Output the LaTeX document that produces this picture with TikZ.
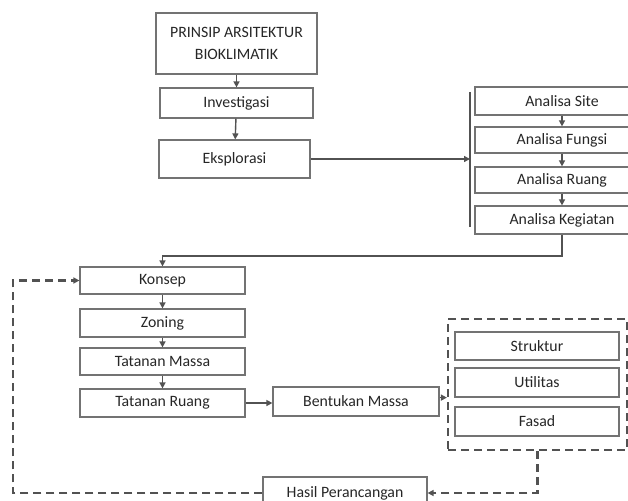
\documentclass[tikz,border=0pt]{standalone}
\usepackage{fontspec}
\setmainfont{Carlito}
\usetikzlibrary{arrows.meta}

\begin{document}
\begin{tikzpicture}[x=1pt,y=-1pt,>={Triangle[length=6pt,width=6pt]},
  kotak/.style={draw=black!55,line width=1.2pt,inner sep=0pt,minimum height=28pt,
    text=black!85,font=\fontsize{15.8}{22}\selectfont},
  panah/.style={->,draw=black!68,line width=1.4pt},
  putus/.style={->,draw=black!68,line width=2.2pt,dash pattern=on 8pt off 5pt}]
  \clip (0,0) rectangle (628,500);
  \node[kotak,minimum width=161pt,minimum height=61pt,align=center] (prinsip) at (236.5,43.5) {PRINSIP ARSITEKTUR\\BIOKLIMATIK};
  \node[kotak,minimum width=153pt,minimum height=30pt] (investigasi) at (236.5,103) {Investigasi};
  \node[kotak,minimum width=151pt,minimum height=38pt] (eksplorasi) at (234.5,159) {Eksplorasi};
  \draw[panah] (prinsip) -- (investigasi);
  \draw[panah] (investigasi) -- (eksplorasi);

  \coordinate (bartop) at (470,92);
  \coordinate (barbot) at (470,227);
  \draw[draw=black!68,line width=1.4pt] (bartop) -- (barbot);
  \draw[panah] (eksplorasi.east) -- (eksplorasi.east -| bartop);

  \node[kotak,minimum width=174pt] (site) at (562,101) {Analisa Site};
  \node[kotak,minimum width=174pt,minimum height=26pt] (fungsi) at (562,140) {Analisa Fungsi};
  \node[kotak,minimum width=174pt,minimum height=26pt] (ruang) at (562,180) {Analisa Ruang};
  \node[kotak,minimum width=174pt] (kegiatan) at (562,220) {Analisa Kegiatan};
  \draw[panah] (site) -- (fungsi);
  \draw[panah] (fungsi) -- (ruang);
  \draw[panah] (ruang) -- (kegiatan);

  \node[kotak,minimum width=165pt,minimum height=27pt] (konsep) at (162.5,280.5) {Konsep};
  \node[kotak,minimum width=165pt] (zoning) at (162.5,323) {Zoning};
  \node[kotak,minimum width=165pt,minimum height=27pt] (massa) at (162.5,361.5) {Tatanan Massa};
  \node[kotak,minimum width=165pt] (truang) at (162.5,403) {Tatanan Ruang};
  \coordinate (siku) at (562,256);
  \draw[panah] (kegiatan) -- (siku) -| (konsep);
  \draw[panah] (konsep) -- (zoning);
  \draw[panah] (zoning) -- (massa);
  \draw[panah] (massa) -- (truang);

  \node[kotak,minimum width=166pt,minimum height=29pt] (bentukan) at (356,401.5) {Bentukan Massa};
  \draw[panah] (truang.east) -- (truang.east -| bentukan.west);

  \node[draw=black!68,line width=2.2pt,dash pattern=on 8pt off 5pt,minimum width=179pt,minimum height=131pt] (desain) at (537.5,384.5) {};
  \node[kotak,minimum width=164pt] (struktur) at (537,346) {Struktur};
  \node[kotak,minimum width=164pt,minimum height=29pt] (utilitas) at (537,382.5) {Utilitas};
  \node[kotak,minimum width=164pt,minimum height=29pt] (fasad) at (537,421.5) {Fasad};
  \draw[panah] (bentukan.east |- utilitas.south) -- (desain.west |- utilitas.south);

  \node[kotak,minimum width=164pt,minimum height=32pt] (hasil) at (345,493) {Hasil Perancangan};
  \coordinate (balik) at (13,280.5);
  \draw[putus] (desain) |- (hasil);
  \draw[putus] (hasil) -| (balik) -- (konsep);
\end{tikzpicture}
\end{document}
